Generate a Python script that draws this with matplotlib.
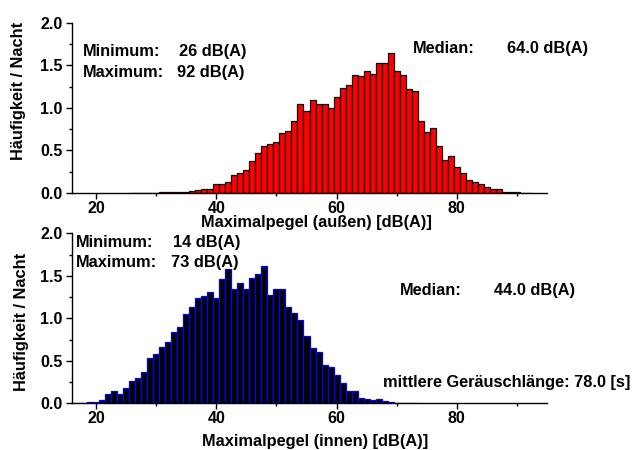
import matplotlib
matplotlib.use("Agg")
import matplotlib.pyplot as plt
from matplotlib.ticker import MultipleLocator, FixedLocator

plt.rcParams['font.family'] = ['Liberation Sans', 'DejaVu Sans']
plt.rcParams['font.weight'] = 'bold'

# ---- data: top panel (outside) ----
out_levels = list(range(26, 93))
out_values = [0.005, 0.0, 0.0, 0.0, 0.0, 0.008, 0.01, 0.01, 0.01, 0.015,
              0.02, 0.04, 0.05, 0.05, 0.11, 0.11, 0.13, 0.21, 0.23, 0.27,
              0.38, 0.47, 0.55, 0.57, 0.60, 0.71, 0.73, 0.85, 1.05, 0.96,
              1.09, 1.04, 1.05, 1.00, 1.13, 1.23, 1.27, 1.38, 1.37, 1.43,
              1.40, 1.53, 1.53, 1.65, 1.43, 1.38, 1.22, 1.20, 0.85, 0.72,
              0.76, 0.55, 0.39, 0.44, 0.31, 0.24, 0.15, 0.13, 0.10, 0.075,
              0.05, 0.045, 0.015, 0.01, 0.008, 0.005, 0.005]

# ---- data: bottom panel (inside) ----
in_levels = list(range(16, 74))
in_values = [0.008, 0.003, 0.003, 0.01, 0.02, 0.04, 0.11, 0.14, 0.11, 0.18,
             0.26, 0.30, 0.37, 0.53, 0.58, 0.66, 0.72, 0.84, 0.90, 1.05,
             1.13, 1.24, 1.26, 1.31, 1.24, 1.46, 1.58, 1.35, 1.41, 1.35,
             1.47, 1.52, 1.61, 1.27, 1.35, 1.34, 1.13, 1.06, 0.98, 0.79,
             0.65, 0.60, 0.45, 0.43, 0.33, 0.24, 0.14, 0.15, 0.06, 0.055,
             0.04, 0.045, 0.025, 0.01, 0.008, 0.006, 0.005, 0.005]

x_ticks = [20, 40, 60, 80]
y_ticks = [0.0, 0.5, 1.0, 1.5, 2.0]
y_label = "Häufigkeit / Nacht"
x_label_out = "Maximalpegel (außen) [dB(A)]"
x_label_in = "Maximalpegel (innen) [dB(A)]"

W, H = 636, 450
fig = plt.figure(figsize=(W / 100, H / 100), dpi=100)


def fx(px):
    return px / W


def fy(py):
    return 1 - py / H


def make_axes(top_px, bottom_px):
    ax = fig.add_axes([fx(72), fy(bottom_px), fx(547) - fx(72), fy(top_px) - fy(bottom_px)])
    ax.set_xlim(16, 95)
    ax.set_ylim(0, 2.0)
    for s in ['top', 'right']:
        ax.spines[s].set_visible(False)
    for s in ['left', 'bottom']:
        ax.spines[s].set_linewidth(1.0)
    ax.xaxis.set_major_locator(FixedLocator(x_ticks))
    ax.xaxis.set_minor_locator(MultipleLocator(10))
    ax.yaxis.set_major_locator(FixedLocator(y_ticks))
    ax.yaxis.set_minor_locator(MultipleLocator(0.25))
    ax.set_yticklabels([f"{v:.1f}" for v in y_ticks])
    ax.tick_params(which='major', direction='out', length=4, width=1, labelsize=11.5, pad=3)
    ax.tick_params(axis='x', which='major', pad=1.5)
    ax.tick_params(which='minor', direction='out', length=2.2, width=1)
    for lab in ax.get_xticklabels() + ax.get_yticklabels():
        lab.set_fontweight('bold')
    return ax


ax1 = make_axes(22.7, 193)
ax1.bar(out_levels, out_values, width=1.0, color='#ff0000', edgecolor='#1a0000', linewidth=0.9)

ax2 = make_axes(233.3, 403.3)
ax2.bar(in_levels, in_values, width=1.0, color='#000000', edgecolor='#0000ff', linewidth=0.9)

fs = 11.8


def t(px, py, s, ha='left', va='baseline', **kw):
    fig.text(fx(px), fy(py), s, ha=ha, va=va, fontsize=fs, fontweight='bold', **kw)


# y labels
t(19, 91, y_label, ha='center', va='center', rotation=90)
t(22, 322, y_label, ha='center', va='center', rotation=90)
# x labels
t(316, 227.5, x_label_out, ha='center')
t(315, 446, x_label_in, ha='center')

# top annotations
t(82.7, 55.7, "Minimum:")
t(179, 55.7, "26 dB(A)")
t(82.7, 76.7, "Maximum:")
t(176.7, 76.7, "92 dB(A)")
t(413.3, 53.3, "Median:")
t(507.3, 53.3, "64.0 dB(A)")

# bottom annotations
t(76, 246.7, "Minimum:")
t(172.7, 246.7, "14 dB(A)")
t(76, 266.7, "Maximum:")
t(171, 266.7, "73 dB(A)")
t(400, 295, "Median:")
t(494, 295, "44.0 dB(A)")
t(382.7, 386.7, "mittlere Geräuschlänge: 78.0 [s]")

fig.savefig("out.png", dpi=100)
